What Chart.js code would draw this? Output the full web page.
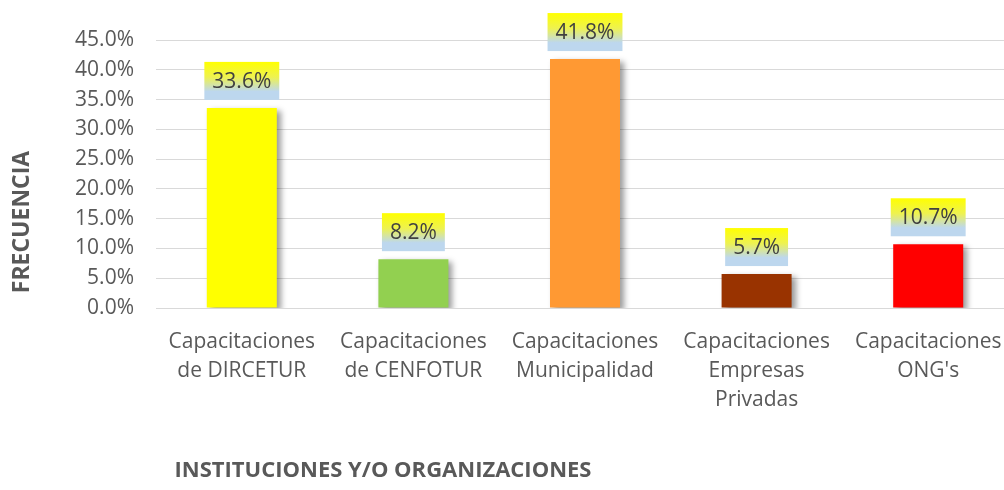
<!DOCTYPE html>
<html>
<head>
<meta charset="utf-8">
<script src="https://cdn.jsdelivr.net/npm/chart.js@4"></script>
<style>
  html, body { margin: 0; padding: 0; background: #fff; overflow: hidden; }
  #wrap { width: 1014px; height: 490px; }
</style>
</head>
<body>
<div id="wrap"><canvas id="my-chart"></canvas></div>
<script>
let labels = [
    ["Capacitaciones", "de DIRCETUR"],
    ["Capacitaciones", "de CENFOTUR"],
    ["Capacitaciones", "Municipalidad"],
    ["Capacitaciones", "Empresas", "Privadas"],
    ["Capacitaciones", "ONG's"]
];
let chartData = [33.6, 8.2, 41.8, 5.7, 10.7];
let barColors = ["#ffff00", "#92d050", "#ff9933", "#993300", "#ff0000"];
let yTicks = [0, 5, 10, 15, 20, 25, 30, 35, 40, 45];

const FONT = "'Open Sans', sans-serif";
const TXT = '#595959';

// soft shadow behind the bars
let shadowPlugin = {
    id: 'shadow',
    beforeDatasetsDraw(chart) {
        let c = chart.ctx;
        c.save();
        c.shadowColor = 'rgba(0,0,0,0.4)';
        c.shadowBlur = 6;
        c.shadowOffsetX = 4;
        c.shadowOffsetY = 3;
    },
    afterDatasetsDraw(chart) {
        chart.ctx.restore();
    }
};

// gradient value boxes above each bar
let labelPlugin = {
    id: 'valueBoxes',
    afterDatasetsDraw(chart) {
        let c = chart.ctx;
        let meta = chart.getDatasetMeta(0);
        c.save();
        c.font = '21px ' + FONT;
        meta.data.forEach((bar, i) => {
            let txt = chartData[i].toFixed(1) + '%';
            let w = c.measureText(txt).width + 16, h = 38;
            let x = bar.x - w / 2;
            let y = bar.y - 8 - h;
            let g = c.createLinearGradient(0, y, 0, y + h);
            g.addColorStop(0, '#ffff00');
            g.addColorStop(0.4, '#eef250');
            g.addColorStop(0.78, '#bdd7ee');
            g.addColorStop(1, '#bdd7ee');
            c.fillStyle = g;
            c.fillRect(x, y, w, h);
            c.fillStyle = '#404040';
            c.textAlign = 'center';
            c.textBaseline = 'middle';
            c.fillText(txt, bar.x, y + h / 2 + 1);
        });
        c.restore();
    }
};

// axis titles
let titlePlugin = {
    id: 'axisTitles',
    afterDraw(chart) {
        let c = chart.ctx;
        c.save();
        c.fillStyle = TXT;
        c.textAlign = 'center';
        c.textBaseline = 'middle';
        c.font = 'bold 22px ' + FONT;
        c.fillText('INSTITUCIONES Y/O ORGANIZACIONES', 383, 471);
        c.font = 'bold 23px ' + FONT;
        c.translate(22, 222);
        c.rotate(-Math.PI / 2);
        c.fillText('FRECUENCIA', 0, 0);
        c.restore();
    }
};

let ctx = document.getElementById('my-chart').getContext('2d');
let chart = new Chart(ctx, {
    type: 'bar',
    data: {
        labels: labels,
        datasets: [{
            data: chartData,
            backgroundColor: barColors,
            barPercentage: 0.408,
            categoryPercentage: 1
        }]
    },
    options: {
        responsive: true,
        maintainAspectRatio: false,
        animation: false,
        layout: { padding: { top: 40, right: 0, bottom: 0, left: 0 } },
        plugins: {
            legend: { display: false },
            tooltip: { enabled: false }
        },
        scales: {
            x: {
                grid: { display: false },
                border: { color: '#d9d9d9', width: 1 },
                ticks: {
                    color: TXT,
                    font: { family: FONT, size: 21, lineHeight: 1.38 },
                    maxRotation: 0,
                    autoSkip: false,
                    padding: 12
                },
                afterFit(scale) { scale.height = 182; }
            },
            y: {
                min: 0,
                max: 45,
                afterBuildTicks(scale) {
                    scale.ticks = yTicks.map(v => ({ value: v }));
                },
                grid: { color: '#d9d9d9', drawTicks: false },
                border: { display: false },
                ticks: {
                    color: TXT,
                    font: { family: FONT, size: 21 },
                    padding: 22,
                    callback: v => v.toFixed(1) + '%'
                },
                afterFit(scale) { scale.width = 156; }
            }
        }
    },
    plugins: [shadowPlugin, labelPlugin, titlePlugin]
});
</script>
</body>
</html>
